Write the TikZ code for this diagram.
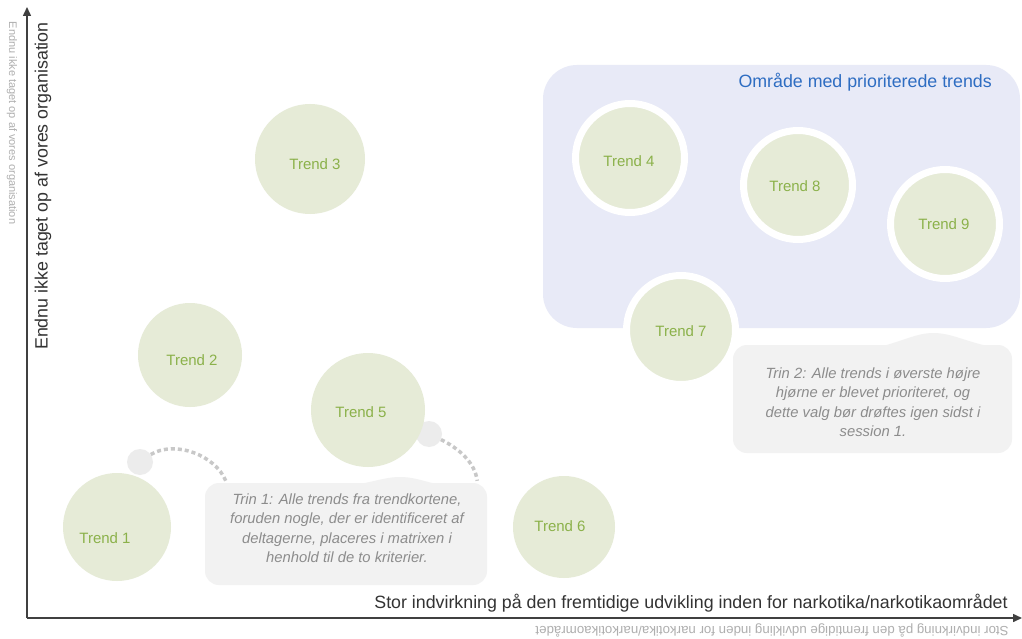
\documentclass[tikz,border=0pt]{standalone}
\usepackage{fontspec}
\setmainfont{Liberation Sans}
\usetikzlibrary{arrows.meta,calc}
\definecolor{trendfill}{RGB}{230,235,215}
\definecolor{trendtext}{RGB}{139,177,74}
\definecolor{regionfill}{RGB}{232,234,247}
\definecolor{regiontitle}{RGB}{46,109,194}
\definecolor{calloutfill}{RGB}{242,242,242}
\definecolor{callouttext}{RGB}{140,140,140}
\definecolor{dotfill}{RGB}{236,236,236}
\definecolor{dashcol}{RGB}{200,200,200}
\definecolor{axiscol}{RGB}{64,64,64}
\definecolor{labelcol}{RGB}{51,51,51}
\definecolor{faintcol}{RGB}{175,175,175}
\tikzset{
  trendlbl/.style={text=trendtext, font=\fontsize{15}{18}\selectfont, inner sep=0pt},
  trend/.style={circle, fill=trendfill, minimum size=#1, inner sep=0pt},
  prio/.style={circle, fill=trendfill, draw=white, line width=7pt, minimum size=#1, inner sep=0pt},
  calloutbox/.style={rectangle, rounded corners=14pt, fill=calloutfill, inner sep=0pt},
  callouttxt/.style={text=callouttext, align=center, font=\fontsize{14.8}{19.5}\selectfont\itshape, inner sep=0pt},
  dotnode/.style={circle, fill=dotfill, minimum size=26pt, inner sep=0pt},
  dashconn/.style={draw=dashcol, line width=3.5pt, dash pattern=on 4pt off 3pt},
  axis/.style={draw=axiscol, line width=1.5pt, -{Triangle[length=9pt,width=8pt]}},
  axislbl/.style={text=labelcol, font=\fontsize{17.8}{20}\selectfont, inner sep=0pt},
  faintlbl/.style={text=faintcol, inner sep=0pt},
}
\begin{document}
\begin{tikzpicture}[x=1pt,y=-1pt]
\useasboundingbox (0,0) rectangle (1022,639);
\fill[white] (0,0) rectangle (1022,639);

% priority region
\node[rectangle, rounded corners=34pt, fill=regionfill, minimum width=477pt, minimum height=263pt, inner sep=0pt] (region) at (781.5,196.5) {};
\node[text=regiontitle, font=\fontsize{17.8}{20}\selectfont, inner sep=0pt, anchor=east] (rtitle) at (992,82) {Område med prioriterede trends};

% callout 1
\node[calloutbox, minimum width=282pt, minimum height=102pt] (c1) at (346,534) {};
\fill[calloutfill] (360,484) .. controls (380,480) and (388,477) .. (400,477) .. controls (412,477) and (420,480) .. (436,484) -- cycle;
\node[callouttxt] (c1t) at (347,528) {Trin 1: Alle trends fra trendkortene,\\foruden nogle, der er identificeret af\\deltagerne, placeres i matrixen i\\henhold til de to kriterier.};

% callout 2
\node[calloutbox, minimum width=279pt, minimum height=108pt] (c2) at (872.5,399) {};
\fill[calloutfill] (883,346) .. controls (905,340) and (918,333) .. (933,333) .. controls (950,333) and (962,340) .. (987,346) -- cycle;
\node[callouttxt] (c2t) at (873,402) {Trin 2: Alle trends i øverste højre\\hjørne er blevet prioriteret, og\\dette valg bør drøftes igen sidst i\\session 1.};

% small dots and dashed connectors
\node[dotnode] (dot1) at (140,462) {};
\node[dotnode] (dot2) at (429,434) {};
\coordinate (c1a) at ($(c1.north west)+(21,-2)$);
\coordinate (c1b) at ($(c1.north east)+(-10,-2)$);
\draw[dashconn] (dot1.35) .. controls (175,440) and (215,455) .. (c1a);
\draw[dashconn] (dot2.-25) .. controls (458,448) and (475,462) .. (c1b);

% trends outside region
\node[trend=108pt, label={[trendlbl,xshift=-12pt,yshift=-11pt]center:Trend 1}] (t1) at (117,527) {};
\node[trend=104pt, label={[trendlbl,xshift=2pt,yshift=-5pt]center:Trend 2}] (t2) at (190,355) {};
\node[trend=110pt, label={[trendlbl,xshift=5pt,yshift=-5pt]center:Trend 3}] (t3) at (310,159) {};
\node[trend=114pt, label={[trendlbl,xshift=-7pt,yshift=-2pt]center:Trend 5}] (t5) at (368,410) {};
\node[trend=102pt, label={[trendlbl,xshift=-4pt,yshift=1pt]center:Trend 6}] (t6) at (564,527) {};

% trends in region
\node[prio=109pt, label={[trendlbl,xshift=-1pt,yshift=-3pt]center:Trend 4}] (t4) at (630,158) {};
\node[prio=109pt, label={[trendlbl,xshift=-3pt,yshift=-1pt]center:Trend 8}] (t8) at (798,185) {};
\node[prio=109pt, label={[trendlbl,xshift=-1pt,yshift=0pt]center:Trend 9}] (t9) at (945,224) {};
\node[prio=109pt, label={[trendlbl,xshift=0pt,yshift=-1pt]center:Trend 7}] (t7) at (681,330) {};

% axes
\coordinate (O) at (27,618);
\coordinate (Ytip) at (27,7);
\coordinate (Xtip) at (1022,618);
\draw[axis] (O) -- (Ytip);
\draw[axis] (O) -- (Xtip);

% axis labels
\node[axislbl, rotate=90] (ylbl) at (43,186) {Endnu ikke taget op af vores organisation};
\node[faintlbl, rotate=-90, font=\fontsize{11}{13}\selectfont] (ylbl2) at (12,123) {Endnu ikke taget op af vores organisation};
\node[axislbl] (xlbl) at (691,603) {Stor indvirkning på den fremtidige udvikling inden for narkotika/narkotikaområdet};
\node[faintlbl, rotate=180, font=\fontsize{13.3}{15}\selectfont] (xlbl2) at (772,630) {Stor indvirkning på den fremtidige udvikling inden for narkotika/narkotikaområdet};
\end{tikzpicture}
\end{document}
